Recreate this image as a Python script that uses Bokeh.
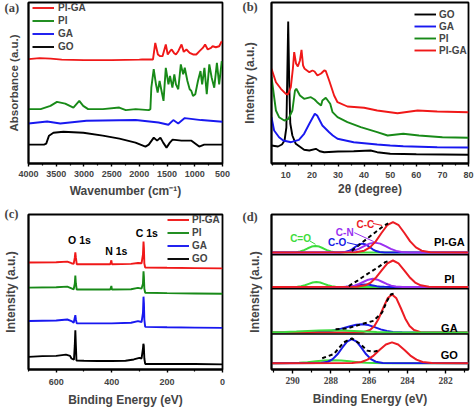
from bokeh.plotting import figure
from bokeh.models import Range1d, Legend, LegendItem, Label, Span, FixedTicker
from bokeh.layouts import gridplot
from bokeh.embed import file_html
from bokeh.resources import INLINE

# ---------------- (a) FTIR ----------------
A_GO_X = [4000, 3720, 3680, 3630, 3550, 3370, 3010, 2660, 2360, 2070, 1890, 1830, 1740, 1680,
          1620, 1570, 1510, 1450, 1400, 1240, 1060, 920, 830, 650, 500]
A_GO_Y = [19, 19, 20, 28, 31, 32, 31, 28, 25, 21, 17, 19, 26, 23, 26, 21, 16, 21, 24, 23, 23,
          17, 19, 19, 19]
A_GA_X = [4000, 3663, 3427, 2954, 2067, 1654, 1476, 1388, 1299, 1181, 885, 500]
A_GA_Y = [40.3, 42.3, 40.3, 43, 43.7, 41.3, 39, 43.7, 40.3, 45.7, 43.7, 42]
A_PI_X = [4000, 3781, 3604, 3486, 3338, 3190, 3084, 3013, 2924, 2658, 2363, 2245, 2067, 1831,
          1801, 1784, 1741, 1700, 1670, 1635, 1606, 1564, 1523, 1475, 1447, 1404, 1369, 1340,
          1298, 1252, 1209, 1181, 1133, 1092, 1062, 1032, 991, 943, 897, 867, 826, 784, 738,
          695, 649, 601, 560, 513]
A_PI_Y = [54.7, 54.7, 58, 62, 60.3, 56.3, 63, 58, 54.7, 54.7, 56.3, 53.7, 54.7, 53.7,
          54.7, 76.3, 95, 79.7, 71.3, 83, 74.7, 63, 96.3, 79.7, 88, 76.3, 89.7, 79.7,
          74.7, 99.7, 89.7, 96.3, 83, 74.7, 73, 68, 69.7, 83, 93, 79.7, 96.3, 69.7, 99.7,
          86.3, 76.3, 101.3, 79.7, 103]
A_PIGA_X = [4000, 3800, 3600, 3400, 3000, 2500, 2000, 1948, 1754, 1713, 1665, 1624, 1582, 1523,
            1488, 1447, 1417, 1376, 1340, 1298, 1239, 1199, 1151, 1092, 1032, 973, 915, 855,
            814, 766, 707, 678, 619, 560, 513]
A_PIGA_Y = [105, 106, 105.5, 104.5, 104, 104, 104.5, 104.7, 104.7, 121.3, 109.7, 108, 108, 119.7,
            109.7, 113, 114.7, 111.3, 109.7, 113, 119.7, 112.3, 114.7, 111.3, 109.7, 109.7, 113,
            116.3, 119.7, 114.7, 116.3, 118, 117, 118, 123]
A_TICKS = [4000, 3500, 3000, 2500, 2000, 1500, 1000, 500]

# ---------------- (b) XRD ----------------
B_GO_X = [4.5, 7, 8.5, 9.5, 10.2, 10.5, 10.9, 11.3, 11.7, 12.5, 13.8, 17, 19, 21.5, 23, 24.7,
          30, 36, 42.5, 45, 50, 60, 70, 80]
B_GO_Y = [18, 17, 19, 23, 36, 80, 142, 80, 40, 28, 19.7, 13.7, 13, 14.7, 12.3, 11.3, 12, 12.3,
          13, 11.3, 9.7, 9.3, 9, 8.7]
B_GA_X = [4.5, 5.5, 7.4, 9, 12, 15, 17, 19, 21.1, 22, 24, 26.6, 28, 29.8, 36, 40, 45, 50, 55,
          68, 80]
B_GA_Y = [46.3, 33, 26.3, 23, 21.3, 23.7, 29.7, 39.7, 49.7, 48, 38, 31.3, 28, 24.7, 21.3, 20.3,
          19, 18, 17.3, 16.3, 16]
B_PI_X = [4.5, 6.2, 7.4, 9.4, 11, 12.5, 13.5, 14, 15.4, 17, 19.6, 21, 22, 23.5, 24, 25.3, 27,
          27.9, 29.8, 33.6, 38.7, 45, 49, 55, 61, 70, 80]
B_PI_Y = [86.3, 53, 46.3, 43, 44.7, 53, 73, 74.7, 68, 64.7, 66.3, 64, 61.3, 58, 63, 65.7, 59.7,
          51.3, 46.3, 41.3, 36.3, 31.3, 28, 29.7, 28, 26.3, 25.7]
B_PIGA_X = [4.5, 6.2, 8.1, 10, 10.8, 11.9, 12.7, 13.2, 13.9, 14.6, 15.4, 16.0, 16.6, 17.2, 19,
            20.2, 21, 22.1, 23.5, 24.7, 25.3, 26.6, 28.5, 29.8, 33.6, 40, 45, 52.8, 60.5, 68, 80]
B_PIGA_Y = [94.7, 81.3, 74.7, 69.7, 69, 76.3, 95, 111.3, 100, 97, 103, 113.7, 98, 94.7, 91.3,
            93, 92, 88, 90, 93, 92.5, 83, 68, 61.3, 57, 55.7, 53, 50.3, 53, 52, 51.3]
B_TICKS = [10, 20, 30, 40, 50, 60, 70, 80]

# ---------------- (c) XPS survey ----------------
C_GO_X = [700, 650, 600, 565, 550, 545, 536, 533, 531, 529, 527, 500, 450, 400, 350, 320, 300,
          292, 287, 285.5, 284, 282, 279, 200, 100, 0]
C_GO_Y = [13, 13.7, 14, 15.3, 14, 11.3, 10, 24.7, 40.3, 24.7, 9.3, 9, 8.7, 8.7, 9, 10.3, 12,
          11.3, 21.3, 26.3, 24.7, 11.3, 5.7, 5.7, 5.7, 5.3]
C_GA_X = [700, 600, 560, 545, 537, 533, 531, 529, 526, 450, 400, 330, 305, 292, 287, 285,
          283.5, 282, 279, 200, 100, 0]
C_GA_Y = [49.7, 50.3, 51.3, 49.7, 48, 53, 55.7, 51.3, 47.3, 47.3, 47.3, 48, 49.7, 48.7, 58,
          74.7, 68, 51.3, 43.7, 43.3, 43, 42.7]
C_PI_X = [700, 600, 560, 545, 537, 533, 531, 529, 526, 450, 405, 401, 399, 330, 305, 292, 287,
          285, 283.5, 282, 279, 200, 100, 0]
C_PI_Y = [84, 84.3, 85, 83.3, 82.3, 88, 96.3, 88, 82, 82, 82, 85.7, 82, 82.3, 83.7, 83, 88,
          100.7, 94.7, 83, 78.7, 78.3, 78, 77.7]
C_PIGA_X = [700, 600, 560, 545, 537, 533, 531, 529, 526, 450, 405, 401, 399, 330, 305, 292,
            287, 285, 283.5, 282, 279, 200, 100, 0]
C_PIGA_Y = [109.7, 110, 110.7, 109, 108.3, 114.7, 120.3, 114.7, 108, 108, 108, 112, 108, 108.3,
            109.3, 109, 118, 131.3, 124.7, 108.7, 104.7, 104.3, 104, 103.7]
C_TICKS = [600, 400, 200, 0]

# ---------------- (d) XPS C1s ----------------
D_GROUPS = ["PI-GA", "PI", "GA", "GO"]
D_BASE = [117.7, 83, 37.3, 6.3]
D_TICKS = [290, 288, 286, 284, 282]

PIGA_CC_E = [291.1, 286.7, 286.25, 285.95, 285.65, 285.35, 285.05, 284.75, 284.45, 284.15, 283.85, 283.55, 283.25, 282.8, 280.8]
PIGA_CC_I = [0, 0.3, 1.9, 5.2, 11.3, 19.7, 27.5, 30.7, 27.5, 19.7, 11.3, 5.2, 1.9, 0.3, 0]
PIGA_CN_E = [291.1, 287.52, 287.1, 286.82, 286.54, 286.26, 285.98, 285.7, 285.42, 285.14, 284.86, 284.58, 284.3, 283.9, 280.8]
PIGA_CN_I = [0, 0.1, 0.6, 1.7, 3.7, 6.4, 9.0, 10, 9.0, 6.4, 3.7, 1.7, 0.6, 0.1, 0]
PIGA_CO_E = [291.1, 287.52, 287.25, 287.07, 286.89, 286.71, 286.53, 286.35, 286.17, 285.99, 285.81, 285.63, 285.45, 285.18, 280.8]
PIGA_CO_I = [0, 0.1, 0.6, 1.5, 3.3, 5.8, 8.1, 9, 8.1, 5.8, 3.3, 1.5, 0.6, 0.1, 0]
PIGA_CDO_E = [291.1, 290.1, 289.8, 289.6, 289.4, 289.2, 289.0, 288.8, 288.6, 288.4, 288.2, 288.0, 287.8, 287.5, 280.8]
PIGA_CDO_I = [0, 0.1, 0.4, 1.1, 2.5, 4.3, 6.0, 6.7, 6.0, 4.3, 2.5, 1.1, 0.4, 0.1, 0]
PIGA_FIT_E = [286.9, 286.5, 286.1, 285.7, 285.2, 285.0]
PIGA_FIT_I = [1.7, 8, 14, 20, 27.3, 29.3]

PI_CC_E = [291.1, 286.64, 286.2, 285.91, 285.62, 285.33, 285.04, 284.75, 284.46, 284.17, 283.88, 283.59, 283.3, 282.87, 280.8]
PI_CC_I = [0, 0.2, 1.7, 4.5, 9.9, 17.1, 23.9, 26.7, 23.9, 17.1, 9.9, 4.5, 1.7, 0.2, 0]
PI_CN_E = [291.1, 287.36, 287.0, 286.76, 286.52, 286.28, 286.04, 285.8, 285.56, 285.32, 285.08, 284.84, 284.6, 284.24, 280.8]
PI_CN_I = [0, 0.1, 0.5, 1.4, 3.1, 5.3, 7.4, 8.3, 7.4, 5.3, 3.1, 1.4, 0.5, 0.1, 0]
PI_CO_E = [291.1, 287.5, 287.2, 287.0, 286.8, 286.6, 286.4, 286.2, 286.0, 285.8, 285.6, 285.4, 285.2, 284.9, 280.8]
PI_CO_I = [0, 0, 0.2, 0.4, 0.9, 1.6, 2.2, 2.5, 2.2, 1.6, 0.9, 0.4, 0.2, 0, 0]
PI_CDO_E = [291.1, 290.05, 289.75, 289.55, 289.35, 289.15, 288.95, 288.75, 288.55, 288.35, 288.15, 287.95, 287.75, 287.45, 280.8]
PI_CDO_I = [0, 0, 0.3, 0.9, 1.8, 3.2, 4.5, 5, 4.5, 3.2, 1.8, 0.9, 0.3, 0, 0]
PI_FIT_E = [287.06, 286.6, 286.1, 285.6, 285.15, 284.95]
PI_FIT_I = [1, 6.5, 13, 19, 25, 26.5]

GA_CC_E = [291.1, 286.3, 285.95, 285.72, 285.49, 285.26, 285.03, 284.8, 284.57, 284.34, 284.11, 283.88, 283.65, 283.3, 280.8]
GA_CC_I = [0, 0.3, 2.4, 6.5, 14.1, 24.6, 34.3, 38.3, 34.3, 24.6, 14.1, 6.5, 2.4, 0.3, 0]
GA_CO_E = [291.1, 289.0, 288.43, 287.95, 287.63, 287.31, 286.99, 286.67, 286.35, 286.03, 285.71, 285.39, 285.07, 284.75, 284.27, 280.8]
GA_CO_I = [0, 0.1, 0.6, 1.6, 2.8, 4.5, 6.3, 7.8, 8.3, 7.4, 5.3, 3.1, 1.4, 0.5, 0.1, 0]
GA_CDO_E = [291.1, 290.4, 289.8, 289.2, 288.6, 288.0, 287.4, 286.8, 286.2, 285.6, 285.0, 284.1, 280.8]
GA_CDO_I = [0.14, 0.39, 0.85, 1.48, 2.06, 2.3, 2.06, 1.48, 0.85, 0.39, 0.14, 0.02, 0]
GA_FIT_E = [287.75, 287.15, 286.7, 286.28, 285.76, 285.32, 285.06, 284.85, 284.65]
GA_FIT_I = [3.3, 4, 6.5, 9, 11.7, 20, 31.7, 38.5, 39]

GO_CC_E = [291.1, 286.88, 286.4, 286.08, 285.76, 285.44, 285.12, 284.8, 284.48, 284.16, 283.84, 283.52, 283.2, 282.72, 280.8]
GO_CC_I = [0, 0.2, 1.3, 3.6, 7.7, 13.5, 18.8, 21, 18.8, 13.5, 7.7, 3.6, 1.3, 0.2, 0]
GO_CO_E = [291.1, 288.53, 288.15, 287.9, 287.65, 287.4, 287.15, 286.9, 286.65, 286.4, 286.15, 285.9, 285.65, 285.28, 280.8]
GO_CO_I = [0, 0.2, 1.5, 4.1, 9.0, 15.6, 21.7, 24.3, 21.7, 15.6, 9.0, 4.1, 1.5, 0.2, 0]
GO_CDO_E = [291.1, 290.76, 290.1, 289.66, 289.22, 288.78, 288.34, 287.9, 287.46, 287.02, 286.58, 286.14, 285.7, 285.04, 280.8]
GO_CDO_I = [0, 0.03, 0.19, 0.51, 1.1, 1.93, 2.69, 3, 2.69, 1.93, 1.1, 0.51, 0.19, 0.03, 0]
GO_FIT_E = [288.45, 287.84, 287.32, 286.9, 286.45, 286.1, 285.75, 285.5]
GO_FIT_I = [5, 9.3, 21, 25, 19.3, 12.7, 11.7, 12.7]

# ---------------- styling ----------------
RED, GREEN, BLUE, BLACK = "#f01818", "#188a18", "#1818f0", "#000000"
D_RED, D_GREEN, D_BLUE, D_PURPLE = "#ec1c24", "#3cdc3c", "#1a1ae6", "#9a30f0"
SANS, SERIF = "Liberation Sans", "Liberation Serif"


def make_fig(w, h, xr, yr, left, right, top, bottom, letter, l_off, l_stand):
    p = figure(width=w, height=h, x_range=Range1d(*xr), y_range=Range1d(*yr),
               output_backend="svg", toolbar_location=None,
               min_border_left=left, min_border_right=right,
               min_border_top=top, min_border_bottom=bottom)
    p.xgrid.visible = False
    p.ygrid.visible = False
    p.outline_line_color = "black"
    p.outline_line_width = 1.8
    p.outline_line_alpha = 1
    p.background_fill_color = "white"
    p.border_fill_color = "white"
    # panel letter, drawn as the (shifted) title
    p.title.text = letter
    p.title.align = "left"
    p.title.offset = l_off
    p.title.standoff = l_stand
    p.title.vertical_align = "bottom"
    p.title.text_font = SERIF
    p.title.text_font_style = "bold"
    p.title.text_font_size = "12.5px"
    return p


def style_x(p, ticks, minor, label, font, size, tick_out, lab_standoff, ax_standoff):
    ax = p.xaxis[0]
    ax.ticker = FixedTicker(ticks=ticks, minor_ticks=minor)
    ax.axis_label = label
    ax.axis_label_text_font = SANS
    ax.axis_label_text_font_style = "bold"
    ax.axis_label_text_font_size = "12px"
    ax.axis_label_standoff = ax_standoff
    ax.major_label_text_font = font
    ax.major_label_text_font_style = "bold"
    ax.major_label_text_font_size = size
    ax.major_label_standoff = lab_standoff
    ax.major_tick_out = tick_out
    ax.major_tick_in = 0
    ax.minor_tick_out = tick_out - 1
    ax.minor_tick_in = 0
    ax.axis_line_width = 1.8
    ax.major_tick_line_width = 1.4
    ax.minor_tick_line_width = 1.2


def style_y(p, label, standoff, size="12px"):
    ax = p.yaxis[0]
    ax.ticker = FixedTicker(ticks=[])
    ax.axis_label = label
    ax.axis_label_text_font = SANS
    ax.axis_label_text_font_style = "bold"
    ax.axis_label_text_font_size = size
    ax.axis_label_standoff = standoff
    ax.major_label_standoff = 0
    ax.major_tick_out = 0
    ax.major_tick_in = 0
    ax.minor_tick_out = 0
    ax.minor_tick_in = 0
    ax.axis_line_width = 1.8


def add_legend(p, pairs, loc, row, standoff=4):
    items = [LegendItem(label=n, renderers=[r]) for n, r in pairs]
    leg = Legend(items=items, location=loc, border_line_color=None,
                 background_fill_alpha=0, label_text_font=SANS,
                 label_text_font_style="bold", label_text_font_size="10px",
                 glyph_width=22, glyph_height=row, label_height=row,
                 label_standoff=standoff, spacing=0, padding=0, margin=0)
    p.add_layout(leg)


def tag(p, text, x, y, font=SANS, size="10px", color="black"):
    p.add_layout(Label(x=x, y=y, text=text, text_font=font, text_font_style="bold",
                       text_font_size=size, text_color=color, text_align="center",
                       text_baseline="middle"))


LW = 1.9

# (a)
pa = make_fig(237, 205, (4000, 500), (0, 162), 24, 15, 1, 42, "(a)", -24, -24)
r_a_go = pa.line(A_GO_X, A_GO_Y, line_color=BLACK, line_width=LW)
r_a_ga = pa.line(A_GA_X, A_GA_Y, line_color=BLUE, line_width=LW)
r_a_pi = pa.line(A_PI_X, A_PI_Y, line_color=GREEN, line_width=LW)
r_a_piga = pa.line(A_PIGA_X, A_PIGA_Y, line_color=RED, line_width=LW)
style_x(pa, A_TICKS, [3750, 3250, 2750, 2250, 1750, 1250, 750], "Wavenumber (cm\u207b\u00b9)",
        SANS, "9px", 3, 4, 4)
style_y(pa, "Absorbance (a.u.)", 9, "11.5px")
add_legend(pa, [("PI-GA", r_a_piga), ("PI", r_a_pi), ("GA", r_a_ga), ("GO", r_a_go)], (4, 110), 13)

# (b)
pb = make_fig(237, 205, (4.5, 80), (0, 161), 34, 6, 2, 42, "(b)", -29, -22)
r_b_go = pb.line(B_GO_X, B_GO_Y, line_color=BLACK, line_width=LW)
r_b_ga = pb.line(B_GA_X, B_GA_Y, line_color=BLUE, line_width=LW)
r_b_pi = pb.line(B_PI_X, B_PI_Y, line_color=GREEN, line_width=LW)
r_b_piga = pb.line(B_PIGA_X, B_PIGA_Y, line_color=RED, line_width=LW)
style_x(pb, B_TICKS, [5, 15, 25, 35, 45, 55, 65, 75], "2\u03b8 (degree)", SANS, "9px", 3, 5, 1)
style_y(pb, "Intensity (a.u.)", 15)
add_legend(pb, [("GO", r_b_go), ("GA", r_b_ga), ("PI", r_b_pi), ("PI-GA", r_b_piga)], (143, 107), 12, 3)

# (c)
pc = make_fig(237, 204, (700, 0), (0, 159), 24, 15, 9, 36, "(c)", -24, -12)
r_c_go = pc.line(C_GO_X, C_GO_Y, line_color=BLACK, line_width=LW)
r_c_ga = pc.line(C_GA_X, C_GA_Y, line_color=BLUE, line_width=LW)
r_c_pi = pc.line(C_PI_X, C_PI_Y, line_color=GREEN, line_width=LW)
r_c_piga = pc.line(C_PIGA_X, C_PIGA_Y, line_color=RED, line_width=LW)
style_x(pc, C_TICKS, [700, 500, 300, 100], "Binding Energy (eV)", SANS, "9px", 3, 6, 5)
style_y(pc, "Intensity (a.u.)", 11)
add_legend(pc, [("PI-GA", r_c_piga), ("PI", r_c_pi), ("GA", r_c_ga), ("GO", r_c_go)], (139, 104), 13, 3)
tag(pc, "O 1s", 516, 133, size="10.5px")
tag(pc, "N 1s", 383, 121.3, size="10.5px")
tag(pc, "C 1s", 273, 139.7, size="10.5px")

# (d)
pd = make_fig(237, 204, (291.1, 280.8), (0, 156), 34, 5, 8, 40, "(d)", -29, -18)
for loc in [115.5, 81.3, 35.8]:
    pd.add_layout(Span(location=loc, dimension="width", line_color="black", line_width=1.5))


def shift(vals, base):
    return [base + v for v in vals]


DW = 2
b = D_BASE[0]
pd.line(PIGA_CDO_E, shift(PIGA_CDO_I, b), line_color=D_GREEN, line_width=DW)
pd.line(PIGA_CO_E, shift(PIGA_CO_I, b), line_color=D_BLUE, line_width=DW)
pd.line(PIGA_CN_E, shift(PIGA_CN_I, b), line_color=D_PURPLE, line_width=DW)
pd.line(PIGA_CC_E, shift(PIGA_CC_I, b), line_color=D_RED, line_width=DW)
pd.line(PIGA_FIT_E, shift(PIGA_FIT_I, b), line_color=BLACK, line_width=DW, line_dash="4 3")
b = D_BASE[1]
pd.line(PI_CDO_E, shift(PI_CDO_I, b), line_color=D_GREEN, line_width=DW)
pd.line(PI_CO_E, shift(PI_CO_I, b), line_color=D_BLUE, line_width=DW)
pd.line(PI_CN_E, shift(PI_CN_I, b), line_color=D_PURPLE, line_width=DW)
pd.line(PI_CC_E, shift(PI_CC_I, b), line_color=D_RED, line_width=DW)
pd.line(PI_FIT_E, shift(PI_FIT_I, b), line_color=BLACK, line_width=DW, line_dash="4 3")
b = D_BASE[2]
pd.line(GA_CO_E, shift(GA_CO_I, b), line_color=D_BLUE, line_width=DW)
pd.line(GA_CC_E, shift(GA_CC_I, b), line_color=D_RED, line_width=DW)
pd.line(GA_CDO_E, shift(GA_CDO_I, b), line_color=D_GREEN, line_width=DW)
pd.line(GA_FIT_E, shift(GA_FIT_I, b), line_color=BLACK, line_width=DW, line_dash="4 3")
b = D_BASE[3]
pd.line(GO_CDO_E, shift(GO_CDO_I, b), line_color=D_GREEN, line_width=DW)
pd.line(GO_CO_E, shift(GO_CO_I, b), line_color=D_BLUE, line_width=DW)
pd.line(GO_CC_E, shift(GO_CC_I, b), line_color=D_RED, line_width=DW)
pd.line(GO_FIT_E, shift(GO_FIT_I, b), line_color=BLACK, line_width=DW, line_dash="4 3")

style_x(pd, D_TICKS, [291, 289, 287, 285, 283, 281], "Binding Energy (eV)", SERIF, "9.5px", 4, 3, 5)
style_y(pd, "Intensity (a.u.)", 10)
for name, yv in zip(D_GROUPS, [128.7, 91, 41.7, 15]):
    tag(pd, name, 281.8, yv, size="11px")
tag(pd, "C=O", 289.58, 131.7, size="10px", color=D_GREEN)
tag(pd, "C-O", 287.67, 127.7, size="10px", color=D_BLUE)
tag(pd, "C-N", 287.27, 138.3, size="10px", color=D_PURPLE)
tag(pd, "C-C", 286.19, 146, size="10px", color=D_RED)
pd.segment(x0=[289.09, 287.15, 286.77, 285.79], y0=[129.3, 127.7, 137.7, 147],
           x1=[288.8, 286.54, 285.75, 285.32], y1=[126, 125, 128.7, 145],
           line_color=[D_GREEN, D_BLUE, D_PURPLE, D_RED], line_width=1)

grid = gridplot([[pa, pb], [pc, pd]], toolbar_location=None)
open("out.html", "w").write(file_html(grid, INLINE))
